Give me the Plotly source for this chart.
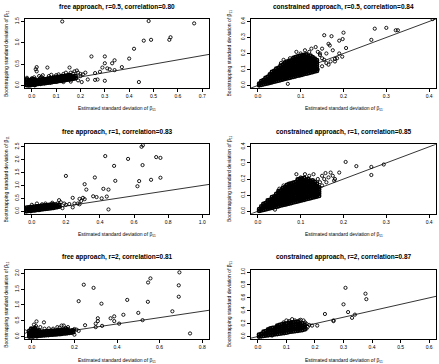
import plotly.graph_objects as go

# ---------------- data ----------------
titles = [
    "free approach, r=0.5, correlation=0.80",
    "constrained approach, r=0.5, correlation=0.84",
    "free approach, r=1, correlation=0.83",
    "constrained approach, r=1, correlation=0.85",
    "free approach, r=2, correlation=0.81",
    "constrained approach, r=2, correlation=0.87",
]
x_title = "Estimated standard deviation of β₁₁"
y_title = "Bootstrapping standard deviation of β₁₁"

x_ticks = [
    [0.0, 0.1, 0.2, 0.3, 0.4, 0.5, 0.6, 0.7],
    [0.0, 0.1, 0.2, 0.3, 0.4],
    [0.0, 0.2, 0.4, 0.6, 0.8, 1.0],
    [0.0, 0.1, 0.2, 0.3, 0.4],
    [0.0, 0.2, 0.4, 0.6, 0.8],
    [0.0, 0.1, 0.2, 0.3, 0.4, 0.5, 0.6],
]
y_ticks = [
    [0.0, 0.5, 1.0, 1.5],
    [0.0, 0.1, 0.2, 0.3, 0.4],
    [0.0, 0.5, 1.0, 1.5, 2.0, 2.5],
    [0.0, 0.1, 0.2, 0.3, 0.4],
    [0.0, 0.5, 1.0, 1.5, 2.0],
    [0.0, 0.2, 0.4, 0.6, 0.8, 1.0],
]

# panel 1: free, r=0.5  (dense core given column by column)
p1_core_x = [-0.02, -0.012, -0.004, 0.004, 0.012, 0.02, 0.028, 0.036, 0.044, 0.052, 0.06, 0.068, 0.076,
             0.084, 0.092, 0.1, 0.108, 0.116, 0.124, 0.132, 0.14, 0.148, 0.156, 0.164, 0.172, 0.18]
p1_core_y = [[0.01, 0.05, 0.09, 0.14], [0.0, 0.04, 0.08, 0.12], [0.01, 0.06, 0.1, 0.13], [0.02, 0.05, 0.1, 0.15],
             [0.01, 0.06, 0.11, 0.14], [0.03, 0.07, 0.12], [0.04, 0.08, 0.12], [0.04, 0.09, 0.13],
             [0.05, 0.1, 0.14], [0.05, 0.1, 0.15], [0.06, 0.11, 0.15], [0.07, 0.11, 0.16], [0.07, 0.12, 0.17],
             [0.08, 0.13, 0.17], [0.09, 0.13, 0.18], [0.09, 0.14, 0.19], [0.1, 0.15, 0.2], [0.11, 0.15, 0.2],
             [0.11, 0.16, 0.21], [0.12, 0.17, 0.22], [0.13, 0.18, 0.22], [0.14, 0.18, 0.23], [0.14, 0.19, 0.24],
             [0.15, 0.2], [0.16, 0.21], [0.17, 0.22]]
p1_x = [0.0, 0.01, 0.02, 0.016, 0.02, 0.03, 0.04, 0.045, 0.064, 0.07, 0.08, 0.09, 0.1, 0.11, 0.12, 0.125,
        0.13, 0.14, 0.15, 0.155, 0.16, 0.17, 0.175, 0.185, 0.19, 0.2, 0.2, 0.21, 0.205, 0.19, 0.23, 0.26,
        0.27, 0.30, 0.22, 0.245, 0.26, 0.28, 0.3, 0.3, 0.29, 0.31, 0.32, 0.33, 0.34, 0.34, 0.37, 0.40,
        0.42, 0.44, 0.46, 0.49, 0.48, 0.565, 0.57, 0.667, 0.045, 0.035, 0.16, 0.13, -0.02]
p1_y = [0.17, 0.19, 0.33, 0.38, 0.43, 0.22, 0.2, 0.24, 0.42, 0.22, 0.25, 0.2, 0.24, 0.26, 0.22, 1.50,
        0.27, 0.3, 0.25, 0.42, 0.3, 0.28, 0.33, 0.35, 0.3, 0.27, 0.22, 0.26, 0.08, 0.12, 0.14, 0.13,
        0.14, 0.11, 0.3, 0.68, 0.29, 0.32, 0.68, 0.52, 0.42, 0.4, 0.38, 0.52, 0.59, 0.36, 0.43, 0.63,
        0.86, 0.08, 1.05, 1.07, 1.51, 1.07, 1.13, 1.455, 0.16, 0.18, 0.09, 0.08, 0.18]

# panel 2: constrained, r=0.5
p2_core_x = [0.003, 0.008, 0.013, 0.018, 0.023, 0.028, 0.033, 0.038, 0.043, 0.048, 0.053, 0.058, 0.063, 0.068,
             0.073, 0.078, 0.083, 0.088, 0.093, 0.098, 0.103, 0.108, 0.113, 0.118, 0.123, 0.128, 0.133, 0.138]
p2_core_y = [[0.001, 0.011], [0.004, 0.016, 0.027], [0.007, 0.021, 0.033], [0.01, 0.023, 0.036, 0.048],
             [0.013, 0.026, 0.041, 0.054], [0.017, 0.031, 0.044, 0.057, 0.069],
             [0.02, 0.034, 0.047, 0.06, 0.073, 0.085], [0.024, 0.036, 0.051, 0.064, 0.077, 0.091],
             [0.027, 0.041, 0.054, 0.067, 0.08, 0.093, 0.105], [0.03, 0.044, 0.057, 0.07, 0.083, 0.096, 0.11],
             [0.034, 0.047, 0.06, 0.073, 0.087, 0.099, 0.112, 0.124],
             [0.037, 0.05, 0.064, 0.077, 0.09, 0.103, 0.116, 0.129],
             [0.041, 0.054, 0.066, 0.08, 0.093, 0.106, 0.119, 0.132, 0.143],
             [0.044, 0.057, 0.071, 0.084, 0.097, 0.11, 0.123, 0.136, 0.149],
             [0.047, 0.061, 0.074, 0.087, 0.1, 0.113, 0.126, 0.139, 0.153],
             [0.051, 0.064, 0.077, 0.09, 0.103, 0.117, 0.13, 0.143, 0.157],
             [0.054, 0.067, 0.081, 0.094, 0.107, 0.12, 0.133, 0.147, 0.161, 0.173],
             [0.057, 0.07, 0.084, 0.097, 0.11, 0.123, 0.136, 0.15, 0.164, 0.177],
             [0.061, 0.074, 0.087, 0.1, 0.113, 0.127, 0.14, 0.153, 0.167, 0.181],
             [0.064, 0.077, 0.09, 0.104, 0.117, 0.13, 0.143, 0.156, 0.17, 0.185],
             [0.067, 0.081, 0.094, 0.107, 0.12, 0.133, 0.146, 0.159, 0.173, 0.188],
             [0.071, 0.084, 0.097, 0.11, 0.124, 0.137, 0.15, 0.163, 0.176, 0.191],
             [0.074, 0.087, 0.1, 0.114, 0.127, 0.14, 0.153, 0.166, 0.18, 0.194],
             [0.077, 0.09, 0.104, 0.117, 0.13, 0.143, 0.156, 0.17, 0.183],
             [0.081, 0.094, 0.107, 0.12, 0.133, 0.147, 0.16, 0.173, 0.187],
             [0.084, 0.097, 0.11, 0.124, 0.137, 0.15, 0.163, 0.177],
             [0.088, 0.101, 0.114, 0.127, 0.14, 0.153, 0.167],
             [0.091, 0.104, 0.117, 0.131, 0.144, 0.158]]
p2_x = [0.054, 0.07, 0.06, 0.075, 0.09, 0.1, 0.11, 0.12, 0.125, 0.13, 0.135, 0.14, 0.145, 0.15, 0.155,
        0.16, 0.165, 0.168, 0.172, 0.175, 0.18, 0.19, 0.197, 0.19, 0.2, 0.198, 0.206, 0.15, 0.16, 0.17,
        0.14, 0.265, 0.273, 0.30, 0.322, 0.327, 0.408, 0.165, 0.18, 0.185, 0.145, 0.155, 0.15]
p2_y = [0.14, 0.01, 0.16, 0.17, 0.21, 0.2, 0.22, 0.21, 0.23, 0.17, 0.24, 0.21, 0.19, 0.17, 0.314,
        0.2, 0.26, 0.25, 0.308, 0.22, 0.166, 0.2, 0.18, 0.28, 0.33, 0.29, 0.234, 0.12, 0.14, 0.15,
        0.1, 0.285, 0.355, 0.36, 0.345, 0.345, 0.415, 0.13, 0.15, 0.17, 0.2, 0.16, 0.23]

# panel 3: free, r=1
p3_core_x = [-0.03, -0.018, -0.006, 0.006, 0.018, 0.03, 0.042, 0.054, 0.066, 0.078, 0.09, 0.102,
             0.114, 0.126, 0.138, 0.15, 0.162]
p3_core_y = [[0.0, 0.07, 0.14], [0.02, 0.09, 0.15], [0.01, 0.08, 0.16], [0.03, 0.1, 0.17], [0.03, 0.1, 0.18],
             [0.05, 0.12, 0.19], [0.05, 0.13, 0.2], [0.07, 0.14, 0.21], [0.08, 0.15, 0.22], [0.09, 0.16, 0.23],
             [0.1, 0.17, 0.24], [0.11, 0.18, 0.25], [0.12, 0.19, 0.26], [0.13, 0.2, 0.27], [0.15, 0.22],
             [0.16, 0.23], [0.18, 0.25]]
p3_x = [0.644, 0.652, 0.431, 0.565, 0.73, 0.755, 0.2, 0.37, 0.31, 0.483, 0.65, 0.49, 0.62, 0.63, 0.70,
        0.755, 0.32, 0.42, 0.45, 0.38, 0.36, 0.41, 0.44, 0.45, 0.3, 0.31, 0.29, 0.27, 0.28, 0.25, 0.24,
        0.22, 0.2, 0.19, 0.17, 0.16, 0.15, 0.14, 0.12, 0.08, 0.06, 0.03, 0.0, 0.18, 0.24, 0.28]
p3_y = [2.5, 2.56, 2.14, 2.03, 2.1, 2.07, 1.37, 1.31, 1.05, 1.76, 1.79, 1.18, 0.97, 1.17, 1.22,
        1.3, 0.84, 0.87, 0.84, 0.55, 0.58, 0.5, 0.57, 0.07, 0.52, 0.47, 0.4, 0.3, 0.27, 0.3, 0.52,
        0.28, 0.25, 0.3, 0.35, 0.43, 0.3, 0.28, 0.33, 0.3, 0.27, 0.3, 0.25, 0.12, 0.15, 0.48]

# panel 4: constrained, r=1
p4_core_x = [0.003, 0.008, 0.013, 0.018, 0.023, 0.028, 0.033, 0.038, 0.043, 0.048, 0.053, 0.058, 0.063, 0.068,
             0.073, 0.078, 0.083, 0.088, 0.093, 0.098, 0.103, 0.108, 0.113, 0.118, 0.123, 0.128, 0.133, 0.138,
             0.143]
p4_core_y = [[0.002, 0.013], [0.005, 0.018, 0.03], [0.008, 0.022, 0.035, 0.046], [0.011, 0.025, 0.038, 0.051],
             [0.015, 0.028, 0.041, 0.055, 0.067], [0.018, 0.032, 0.045, 0.058, 0.071],
             [0.021, 0.035, 0.048, 0.061, 0.075, 0.088], [0.025, 0.038, 0.052, 0.065, 0.078, 0.092],
             [0.028, 0.041, 0.055, 0.068, 0.082, 0.095, 0.108],
             [0.031, 0.045, 0.058, 0.071, 0.085, 0.098, 0.112, 0.124],
             [0.035, 0.048, 0.061, 0.075, 0.088, 0.102, 0.115, 0.128],
             [0.038, 0.051, 0.065, 0.078, 0.091, 0.105, 0.118, 0.132, 0.144],
             [0.041, 0.055, 0.068, 0.082, 0.095, 0.108, 0.122, 0.135, 0.149],
             [0.045, 0.058, 0.071, 0.085, 0.098, 0.112, 0.125, 0.139, 0.152, 0.164],
             [0.048, 0.061, 0.075, 0.088, 0.102, 0.115, 0.128, 0.142, 0.156, 0.169],
             [0.051, 0.065, 0.078, 0.091, 0.105, 0.118, 0.132, 0.145, 0.159, 0.173],
             [0.055, 0.068, 0.081, 0.095, 0.108, 0.122, 0.135, 0.149, 0.162, 0.177],
             [0.058, 0.071, 0.085, 0.098, 0.112, 0.125, 0.138, 0.152, 0.166, 0.181],
             [0.061, 0.075, 0.088, 0.102, 0.115, 0.128, 0.142, 0.155, 0.169, 0.184, 0.197],
             [0.065, 0.078, 0.091, 0.105, 0.118, 0.132, 0.145, 0.159, 0.172, 0.187, 0.2],
             [0.068, 0.081, 0.095, 0.108, 0.122, 0.135, 0.148, 0.162, 0.176, 0.19, 0.204],
             [0.071, 0.085, 0.098, 0.112, 0.125, 0.138, 0.152, 0.165, 0.179, 0.193, 0.207],
             [0.075, 0.088, 0.101, 0.115, 0.128, 0.142, 0.155, 0.169, 0.182, 0.196],
             [0.078, 0.091, 0.105, 0.118, 0.132, 0.145, 0.158, 0.172, 0.186, 0.2],
             [0.081, 0.095, 0.108, 0.122, 0.135, 0.148, 0.162, 0.175, 0.189],
             [0.085, 0.098, 0.111, 0.125, 0.138, 0.152, 0.165, 0.179, 0.192],
             [0.088, 0.101, 0.115, 0.128, 0.142, 0.155, 0.168, 0.182],
             [0.091, 0.105, 0.118, 0.131, 0.145, 0.158, 0.172],
             [0.095, 0.108, 0.121, 0.135, 0.148]]
p4_x = [0.205, 0.23, 0.265, 0.265, 0.294, 0.19, 0.17, 0.178, 0.158, 0.09, 0.15, 0.14, 0.13, 0.12, 0.11,
        0.1, 0.16, 0.15, 0.14, 0.13, 0.18, 0.12, 0.05, 0.06, 0.07, 0.04, 0.155, 0.165, 0.145, 0.175]
p4_y = [0.306, 0.28, 0.275, 0.225, 0.29, 0.24, 0.24, 0.19, 0.237, 0.23, 0.22, 0.2, 0.23, 0.22, 0.23,
        0.21, 0.18, 0.16, 0.15, 0.13, 0.2, 0.19, 0.14, 0.16, 0.15, 0.01, 0.2, 0.21, 0.18, 0.22]

# panel 5: free, r=2
p5_core_x = [-0.012, -0.003, 0.006, 0.015, 0.024, 0.033, 0.042, 0.051, 0.06, 0.069, 0.078, 0.087, 0.096,
             0.105, 0.114, 0.123, 0.132, 0.141, 0.15, 0.159, 0.168, 0.177, 0.186, 0.195]
p5_core_y = [[0.0, 0.06, 0.12, 0.18], [0.01, 0.07, 0.13, 0.19, 0.25], [0.0, 0.06, 0.12, 0.18, 0.24],
             [0.02, 0.08, 0.14, 0.2, 0.27], [0.01, 0.07, 0.13, 0.19], [0.03, 0.09, 0.15, 0.2],
             [0.03, 0.09, 0.15], [0.04, 0.1, 0.16], [0.04, 0.1, 0.16], [0.05, 0.11, 0.17], [0.05, 0.11, 0.17],
             [0.06, 0.12, 0.18], [0.06, 0.12, 0.18], [0.07, 0.13, 0.19], [0.07, 0.13, 0.19], [0.08, 0.14, 0.2],
             [0.08, 0.14, 0.2], [0.09, 0.15, 0.21], [0.1, 0.16, 0.22], [0.1, 0.16, 0.22], [0.11, 0.17, 0.23],
             [0.12, 0.18], [0.13, 0.19], [0.14, 0.2]]
p5_x = [0.244, 0.29, 0.22, 0.327, 0.448, 0.557, 0.546, 0.545, 0.693, 0.69, 0.69, 0.66, 0.50, 0.52, 0.43,
        0.387, 0.387, 0.37, 0.41, 0.31, 0.31, 0.3, 0.3, 0.33, 0.25, 0.743, 0.022, 0.057, -0.03, 0.14,
        0.13, 0.19, 0.2, 0.21, 0.17, 0.16, 0.15, 0.12, 0.1, 0.08, 0.06, 0.04, 0.02, 0.01, 0.22, 0.2]
p5_y = [1.64, 1.54, 1.12, 1.04, 1.16, 1.84, 1.71, 1.1, 2.03, 1.62, 1.26, 0.8, 0.75, 0.52, 0.69,
        0.64, 0.49, 0.58, 0.41, 0.58, 0.49, 0.41, 0.3, 0.34, 0.36, 0.1, 0.48, 0.45, 0.16, 0.35,
        0.28, 0.2, 0.24, 0.22, 0.3, 0.27, 0.35, 0.3, 0.25, 0.26, 0.25, 0.3, 0.33, 0.38, 0.18, 0.06]

# panel 6: constrained, r=2
p6_core_x = [0.004, 0.012, 0.02, 0.028, 0.036, 0.044, 0.052, 0.06, 0.068, 0.076, 0.084, 0.092, 0.1,
             0.108, 0.116, 0.124, 0.132, 0.14, 0.148, 0.156, 0.164]
p6_core_y = [[0.0, 0.03], [0.005, 0.04], [0.01, 0.045, 0.075], [0.015, 0.05, 0.085], [0.02, 0.055, 0.09, 0.11],
             [0.025, 0.06, 0.095, 0.125], [0.03, 0.065, 0.1, 0.135], [0.035, 0.07, 0.105, 0.14],
             [0.04, 0.075, 0.11, 0.145, 0.17], [0.045, 0.08, 0.115, 0.15, 0.18], [0.05, 0.085, 0.12, 0.155, 0.19],
             [0.055, 0.09, 0.125, 0.16, 0.195], [0.06, 0.095, 0.13, 0.165, 0.2], [0.07, 0.105, 0.14, 0.175, 0.21],
             [0.075, 0.11, 0.145, 0.18, 0.215], [0.08, 0.115, 0.15, 0.185, 0.22], [0.085, 0.12, 0.155, 0.19, 0.225],
             [0.09, 0.125, 0.16, 0.195, 0.23], [0.095, 0.13, 0.165, 0.2], [0.1, 0.135, 0.17, 0.205],
             [0.11, 0.145, 0.18]]
p6_x = [0.307, 0.377, 0.38, 0.30, 0.316, 0.34, 0.33, 0.265, 0.265, 0.235, 0.208, 0.165, 0.17, 0.12, 0.145,
        0.07, 0.05, 0.18, 0.175, 0.19, 0.16, 0.15, 0.13, 0.11, 0.09, 0.1, 0.17]
p6_y = [0.756, 0.665, 0.58, 0.5, 0.38, 0.34, 0.29, 0.25, 0.24, 0.35, 0.17, 0.22, 0.2, 0.27, 0.25,
        0.15, 0.015, 0.18, 0.15, 0.17, 0.25, 0.26, 0.25, 0.24, 0.22, 0.25, 0.12]

# ---------------- layout configuration ----------------
W, H = 439, 364
FONT = "Liberation Sans, Arial, Helvetica, sans-serif"
col_px = [(25, 209), (251, 436)]          # box left/right (px)
row_px = [(17, 86.5), (143, 213), (269, 339)]  # box top/bottom (px)
x_ranges = [[-0.028, 0.728], [-0.016, 0.416], [-0.04, 1.04], [-0.016, 0.416], [-0.032, 0.832], [-0.024, 0.624]]
y_ranges = [[-0.06, 1.56], [-0.016, 0.416], [-0.1, 2.6], [-0.016, 0.416], [-0.08, 2.12], [-0.04, 1.04]]
ytitle_px = [6.5, 229]

cores = [(p1_core_x, p1_core_y), (p2_core_x, p2_core_y), (p3_core_x, p3_core_y),
         (p4_core_x, p4_core_y), (p5_core_x, p5_core_y), (p6_core_x, p6_core_y)]
sparse = [(p1_x, p1_y), (p2_x, p2_y), (p3_x, p3_y), (p4_x, p4_y), (p5_x, p5_y), (p6_x, p6_y)]

fig = go.Figure()
layout = dict(width=W, height=H, margin=dict(l=0, r=0, t=0, b=0),
              paper_bgcolor="white", plot_bgcolor="white", showlegend=False,
              font=dict(family=FONT, color="black"), annotations=[])

marker = dict(symbol="circle-open", size=3.2, color="black", line=dict(width=0.9, color="black"))
# the overlapping core points merge into solid black, as in the reference
core_marker = dict(symbol="circle-open", size=3.2, color="black", line=dict(width=1.6, color="black"))

for i in range(6):
    r, c = divmod(i, 2)
    n = "" if i == 0 else str(i + 1)
    xa, ya = "x" + n, "y" + n
    cx, cy = cores[i]
    xs, ys = [], []
    for xv, col in zip(cx, cy):
        for yv in col:
            xs.append(xv)
            ys.append(yv)
    fig.add_trace(go.Scatter(x=xs, y=ys, mode="markers", marker=core_marker, xaxis=xa, yaxis=ya,
                             hoverinfo="skip"))
    fig.add_trace(go.Scatter(x=sparse[i][0], y=sparse[i][1], mode="markers", marker=marker,
                             xaxis=xa, yaxis=ya, hoverinfo="skip"))
    xr = x_ranges[i]
    fig.add_trace(go.Scatter(x=xr, y=xr, mode="lines", line=dict(color="black", width=0.8),
                             xaxis=xa, yaxis=ya, hoverinfo="skip"))
    l, rr = col_px[c]
    t, b = row_px[r]
    common = dict(showline=True, mirror=True, linecolor="black", linewidth=0.8, ticks="outside",
                  ticklen=3, tickwidth=0.8, tickcolor="black", showgrid=False, zeroline=False,
                  tickfont=dict(size=5, family=FONT, color="black"), tickformat=".1f")
    layout["xaxis" + n] = dict(common, domain=[l / W, rr / W], range=xr, tickvals=x_ticks[i],
                               anchor=ya)
    layout["yaxis" + n] = dict(common, domain=[1 - b / H, 1 - t / H], range=y_ranges[i],
                               tickvals=y_ticks[i], tickangle=-90, anchor=xa)
    cxm = (l + rr) / 2
    layout["annotations"].append(dict(text="<b>" + titles[i] + "</b>", x=cxm / W, y=1 - (t - 12.3) / H,
                                      xref="paper", yref="paper", showarrow=False, xanchor="center",
                                      yanchor="middle", font=dict(size=6.5, family=FONT, color="black")))
    layout["annotations"].append(dict(text=x_title, x=cxm / W, y=1 - (b + 20.5) / H,
                                      xref="paper", yref="paper", showarrow=False, xanchor="center",
                                      yanchor="middle", font=dict(size=5, family=FONT, color="black")))
    layout["annotations"].append(dict(text=y_title, x=ytitle_px[c] / W, y=1 - ((t + b) / 2) / H,
                                      xref="paper", yref="paper", showarrow=False, xanchor="center",
                                      yanchor="middle", textangle=-90,
                                      font=dict(size=5, family=FONT, color="black")))

fig.update_layout(**layout)
fig.write_html("out.html")
